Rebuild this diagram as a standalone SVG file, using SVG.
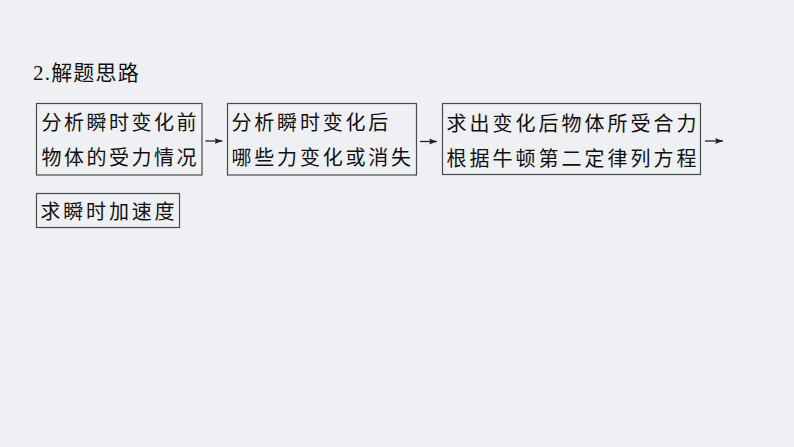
<svg xmlns="http://www.w3.org/2000/svg" width="794" height="447" viewBox="0 0 794 447">
<style>
.box{fill:none;stroke:#4a4a4a;stroke-width:1.2}
.t{font-family:"Noto Sans CJK SC",sans-serif;font-size:20px;fill:#111;letter-spacing:2.8px}
.title{font-family:"Liberation Serif","Noto Sans CJK SC",serif;font-size:21px;fill:#111;letter-spacing:1.2px}
.conn{stroke:#222;stroke-width:1.3;fill:none;marker-end:url(#ah)}
</style>
<defs>
<marker id="ah" viewBox="0 0 8 6" refX="8" refY="3" markerWidth="8" markerHeight="6" markerUnits="userSpaceOnUse" orient="auto">
<path d="M0,0 L8,3 L0,6 L1.5,3 Z" fill="#222"/>
</marker>
</defs>
<rect width="794" height="447" fill="#eff0f3"/>
<text class="title" x="33" y="79.5">2.解题思路</text>
<g id="node1">
<rect class="box" x="36.5" y="103.5" width="165.5" height="71.5"/>
<text class="t" x="41.5" y="130" style="letter-spacing:2.5px">分析瞬时变化前</text>
<text class="t" x="41.5" y="165" style="letter-spacing:2.5px">物体的受力情况</text>
</g>
<g id="node2">
<rect class="box" x="227.5" y="103.5" width="189" height="71.5"/>
<text class="t" x="231.5" y="130">分析瞬时变化后</text>
<text class="t" x="231.5" y="165">哪些力变化或消失</text>
</g>
<g id="node3">
<rect class="box" x="442.5" y="103.5" width="258" height="71"/>
<text class="t" x="446.5" y="130.5" style="letter-spacing:3px">求出变化后物体所受合力</text>
<text class="t" x="446.5" y="165.5" style="letter-spacing:3px">根据牛顿第二定律列方程</text>
</g>
<g id="node4">
<rect class="box" x="36.5" y="193.5" width="143" height="34"/>
<text class="t" x="40.5" y="219">求瞬时加速度</text>
</g>
<g id="connectors">
<line class="conn" x1="205.5" y1="141" x2="222.5" y2="141"/>
<line class="conn" x1="420" y1="141.5" x2="437" y2="141.5"/>
<line class="conn" x1="705" y1="141" x2="723" y2="141"/>
</g>
</svg>
